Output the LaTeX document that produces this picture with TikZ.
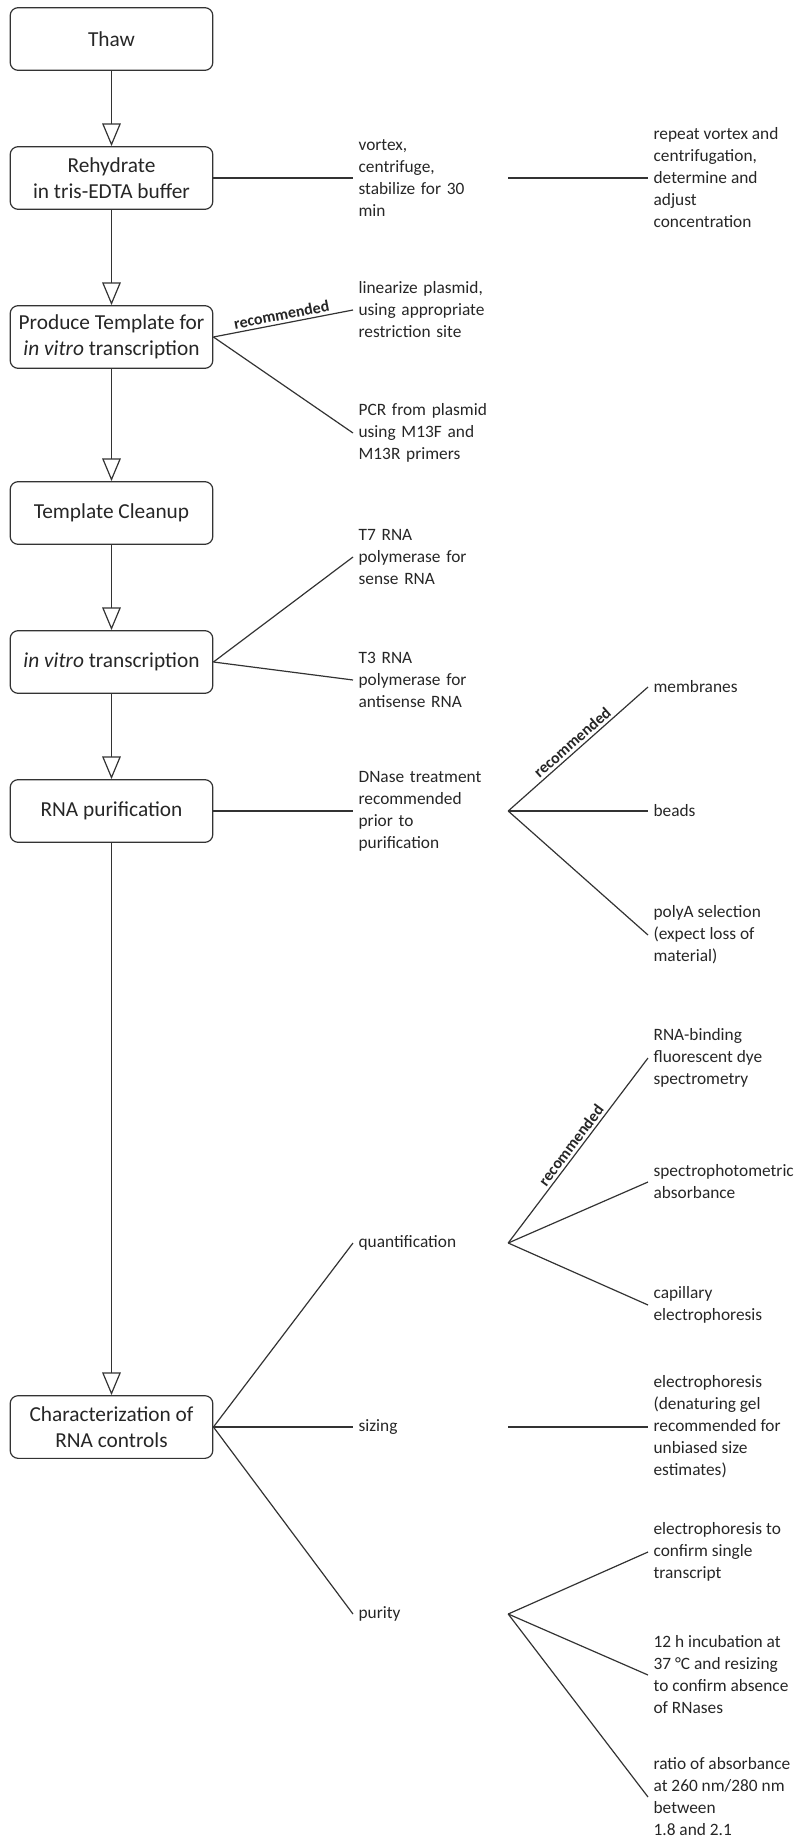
\documentclass[tikz,border=0pt]{standalone}
\usepackage{fontspec}
\setmainfont{Carlito}
\usetikzlibrary{arrows.meta}

\begin{document}
\begin{tikzpicture}[
		x=0.75pt, y=-0.75pt,
		box/.style	= {rectangle, rounded corners=6pt, draw=black!80, line width=0.9pt, text=black!85,
						minimum width=152pt, minimum height=47pt, align=center, font=\fontsize{16}{19.5}\selectfont},
		opt/.style	= {anchor=west, inner xsep=4pt, text width=108pt, align=left, text=black!85,
						font=\fontsize{13}{16.5}\selectfont},
		leaf/.style	= {anchor=west, inner xsep=4pt, align=left, text=black!85, font=\fontsize{13}{16.5}\selectfont},
		arr/.style	= {-{Triangle[open, length=17pt, width=14pt]}, line width=0.9pt, draw=black!80},
		ln/.style	= {line width=0.9pt, draw=black!80},
		rec/.style	= {above, sloped, inner sep=2pt, text=black!85, font=\fontsize{12}{14}\selectfont\bfseries}
		]
		
		\useasboundingbox (0, 0) rectangle (796, 1837);
		
		% === === Steps === ===
		\node[box]	(thaw)		at	(111.5, 39)		{Thaw};
		\node[box]	(rehyd)		at	(111.5, 178)	{Rehydrate\\in tris-EDTA buffer};
		\node[box]	(templ)		at	(111.5, 337)	{Produce Template for\\\textit{in vitro} transcription};
		\node[box]	(clean)		at	(111.5, 513)	{Template Cleanup};
		\node[box]	(ivt)		at	(111.5, 662)	{\textit{in vitro} transcription};
		\node[box]	(purif)		at	(111.5, 811)	{RNA purification};
		\node[box]	(charac)	at	(111.5, 1427)	{Characterization of\\RNA controls};
		
		% === === Options === ===
		\node[opt]	(vortex)	at	(353, 178)		{vortex,\\centrifuge,\\stabilize for 30\\min};
		\node[opt]	(linear)	at	(353, 310)		{linearize plasmid,\\using appropriate\\restriction site};
		\node[opt]	(pcr)		at	(353, 433)		{PCR from plasmid\\using M13F and\\M13R primers};
		\node[opt]	(t7)		at	(353, 557)		{T7 RNA\\polymerase for\\sense RNA};
		\node[opt]	(t3)		at	(353, 680)		{T3 RNA\\polymerase for\\antisense RNA};
		\node[opt]	(dnase)		at	(353, 811)		{DNase treatment\\recommended\\prior to\\purification};
		\node[opt]	(quant)		at	(353, 1243)		{quantification};
		\node[opt]	(sizing)	at	(353, 1427)		{sizing};
		\node[opt]	(purity)	at	(353, 1614)		{purity};
		
		% === === Details === ===
		\node[leaf]	(repeat)	at	(648, 178)		{repeat vortex and\\centrifugation,\\determine and\\adjust\\concentration};
		\node[leaf]	(membr)		at	(648, 687)		{membranes};
		\node[leaf]	(beads)		at	(648, 811)		{beads};
		\node[leaf]	(polya)		at	(648, 935)		{polyA selection\\(expect loss of\\material)};
		\node[leaf]	(dye)		at	(648, 1058)		{RNA-binding\\fluorescent dye\\spectrometry};
		\node[leaf]	(absorb)	at	(648, 1182)		{spectrophotometric\\absorbance};
		\node[leaf]	(capil)		at	(648, 1305)		{capillary\\electrophoresis};
		\node[leaf]	(gel)		at	(648, 1427)		{electrophoresis\\(denaturing gel\\recommended for\\unbiased size\\estimates)};
		\node[leaf]	(single)	at	(648, 1552)		{electrophoresis to\\confirm single\\transcript};
		\node[leaf]	(rnase)		at	(648, 1675)		{12 h incubation at\\37 °C and resizing\\to confirm absence\\of RNases};
		\node[leaf]	(ratio)		at	(648, 1797)		{ratio of absorbance\\at 260 nm/280 nm\\between\\1.8 and 2.1};
		
		% === === Arrows === ===
		\draw[arr]	(thaw)		to	(rehyd);
		\draw[arr]	(rehyd)		to	(templ);
		\draw[arr]	(templ)		to	(clean);
		\draw[arr]	(clean)		to	(ivt);
		\draw[arr]	(ivt)		to	(purif);
		\draw[arr]	(purif)		to	(charac);
		
		% === === Lines === ===
		\draw[ln]	(rehyd.east)	to	(vortex.west);
		\draw[ln]	(vortex.east)	to	(repeat.west);
		\draw[ln]	(templ.east)	to	node[rec]	{recommended}	(linear.west);
		\draw[ln]	(templ.east)	to	(pcr.west);
		\draw[ln]	(ivt.east)		to	(t7.west);
		\draw[ln]	(ivt.east)		to	(t3.west);
		\draw[ln]	(purif.east)	to	(dnase.west);
		\draw[ln]	(dnase.east)	to	node[rec]	{recommended}	(membr.west);
		\draw[ln]	(dnase.east)	to	(beads.west);
		\draw[ln]	(dnase.east)	to	(polya.west);
		\draw[ln]	(charac.east)	to	(quant.west);
		\draw[ln]	(charac.east)	to	(sizing.west);
		\draw[ln]	(charac.east)	to	(purity.west);
		\draw[ln]	(quant.east)	to	node[rec]	{recommended}	(dye.west);
		\draw[ln]	(quant.east)	to	(absorb.west);
		\draw[ln]	(quant.east)	to	(capil.west);
		\draw[ln]	(sizing.east)	to	(gel.west);
		\draw[ln]	(purity.east)	to	(single.west);
		\draw[ln]	(purity.east)	to	(rnase.west);
		\draw[ln]	(purity.east)	to	(ratio.west);
		
	\end{tikzpicture}
\end{document}
